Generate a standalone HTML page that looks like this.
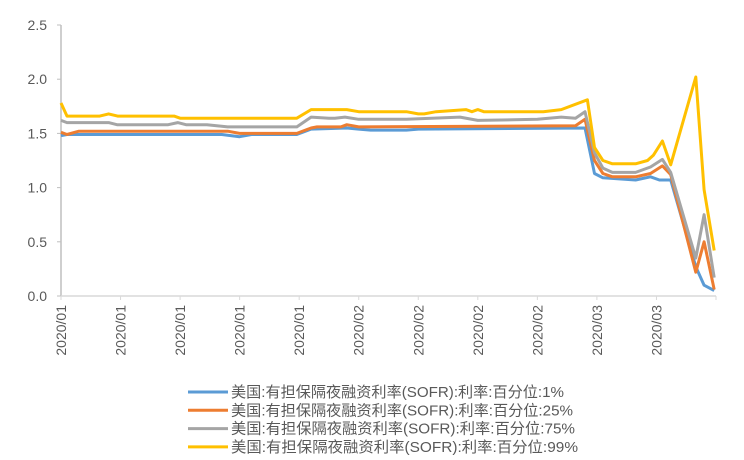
<!DOCTYPE html>
<html><head><meta charset="utf-8"><style>
html,body{margin:0;padding:0;background:#fff;}
svg{display:block;font-family:"Liberation Sans","Noto Sans CJK SC",sans-serif;}
</style></head><body>
<svg id="chart" width="744" height="460" viewBox="0 0 744 460" xmlns="http://www.w3.org/2000/svg"></svg>
<script>
const xTickLabels = ["2020/01","2020/01","2020/01","2020/01","2020/01","2020/02","2020/02","2020/02","2020/02","2020/03","2020/03"];
const yTicks = [0,0.5,1.0,1.5,2.0,2.5];
const seriesNames = ["美国:有担保隔夜融资利率(SOFR):利率:百分位:1%","美国:有担保隔夜融资利率(SOFR):利率:百分位:25%","美国:有担保隔夜融资利率(SOFR):利率:百分位:75%","美国:有担保隔夜融资利率(SOFR):利率:百分位:99%"];
const colors = ["#5B9BD5","#ED7D31","#A5A5A5","#FFC000"];
const p1x  = [0,1,27,30,32,39.6,42,48,50,52,58,60,88,89.6,91,96.5,99,100.5,102.4,106.6,108,109.7];
const p1y  = [1.48,1.49,1.49,1.47,1.49,1.49,1.54,1.55,1.54,1.53,1.53,1.54,1.55,1.13,1.09,1.07,1.10,1.07,1.07,0.27,0.10,0.05];
const p25x = [0,1,3,28,30,39.6,42,43,47,48,50,86.4,88,89.6,91,92.6,96.5,99,101,102.4,106.6,108,109.7];
const p25y = [1.51,1.49,1.52,1.52,1.50,1.50,1.55,1.56,1.56,1.58,1.56,1.57,1.63,1.25,1.13,1.10,1.10,1.13,1.20,1.12,0.22,0.50,0.06];
const p75x = [0,1,8,9.4,18,19.6,21,24.5,28,39.6,42,45,46,47.7,50,58,67,70,80,84,86.4,88,89.6,91,92.6,96.5,99,101,102.4,106.6,108,109.7];
const p75y = [1.62,1.60,1.60,1.58,1.58,1.60,1.58,1.58,1.56,1.56,1.65,1.64,1.64,1.65,1.63,1.63,1.65,1.62,1.63,1.65,1.64,1.70,1.32,1.18,1.14,1.14,1.19,1.26,1.14,0.35,0.75,0.17];
const p99x = [0,1,6.5,8,9.5,19,20,39.6,42,48,50,58,60,61,63,68,69,70,71,81,84,88.4,89.6,91,92.6,96.5,98.5,99.5,101,102.4,106.6,108,109.7];
const p99y = [1.78,1.66,1.66,1.68,1.66,1.66,1.64,1.64,1.72,1.72,1.70,1.70,1.68,1.68,1.70,1.72,1.70,1.72,1.70,1.70,1.72,1.81,1.37,1.25,1.22,1.22,1.25,1.30,1.43,1.21,2.02,0.98,0.42];
const xs=[p1x,p25x,p75x,p99x], ys=[p1y,p25y,p75y,p99y];
const svg=document.getElementById('chart'), NS="http://www.w3.org/2000/svg";
const X0=61,X1=716,Y0=296,YT=25;
const xScale=v=>X0+v*(X1-X0)/110;
const yScale=v=>Y0-v*(Y0-YT)/2.5;
function mk(tag,attrs,parent){const e=document.createElementNS(NS,tag);for(const k in attrs)e.setAttribute(k,attrs[k]);(parent||svg).appendChild(e);return e;}
let a=mk('line',{x1:X0,y1:YT,x2:X0,y2:Y0,stroke:'#BFBFBF','stroke-width':1.5});


a=mk('line',{x1:X0,y1:Y0,x2:X1,y2:Y0,stroke:'#D9D9D9','stroke-width':1.5});


yTicks.forEach(v=>{
  const t=mk('line',{x1:X0-4,y1:yScale(v),x2:X0,y2:yScale(v),stroke:'#BFBFBF','stroke-width':1});
  
  
  const l=mk('text',{x:47,y:yScale(v)+5,'text-anchor':'end','font-size':14,fill:'#595959'});
  l.textContent=v.toFixed(1);
  
  
});
xTickLabels.forEach((s,i)=>{
  const x=xScale(i*10);
  const t=mk('line',{x1:x,y1:Y0,x2:x,y2:Y0+4,stroke:'#D9D9D9','stroke-width':1});
  
  
  const l=mk('text',{x:0,y:0,'text-anchor':'end','font-size':14,fill:'#595959',transform:`translate(${x+5},${Y0+9}) rotate(-90)`});
  l.textContent=s;
  
  
});
const t=mk('line',{x1:X1,y1:Y0,x2:X1,y2:Y0+4,stroke:'#D9D9D9','stroke-width':1});


xs.forEach((xa,si)=>{
  const pts=xa.map((v,i)=>xScale(v).toFixed(1)+','+yScale(ys[si][i]).toFixed(1)).join(' ');
  const p=mk('polyline',{points:pts,fill:'none',stroke:colors[si],'stroke-width':3,'stroke-linejoin':'round'});
  
  
});
const legendWidths=[333,342,344,347];
seriesNames.forEach((n,i)=>{
  const y=392+i*18.3;
  const g=mk('g',{});
  
  
  mk('line',{x1:188,y1:y,x2:228,y2:y,stroke:colors[i],'stroke-width':3},g);
  const l=mk('text',{x:231,y:y+5,'font-size':15,fill:'#595959',textLength:legendWidths[i],lengthAdjust:'spacingAndGlyphs'},g);
  l.textContent=n;
});
</script>
</body></html>
